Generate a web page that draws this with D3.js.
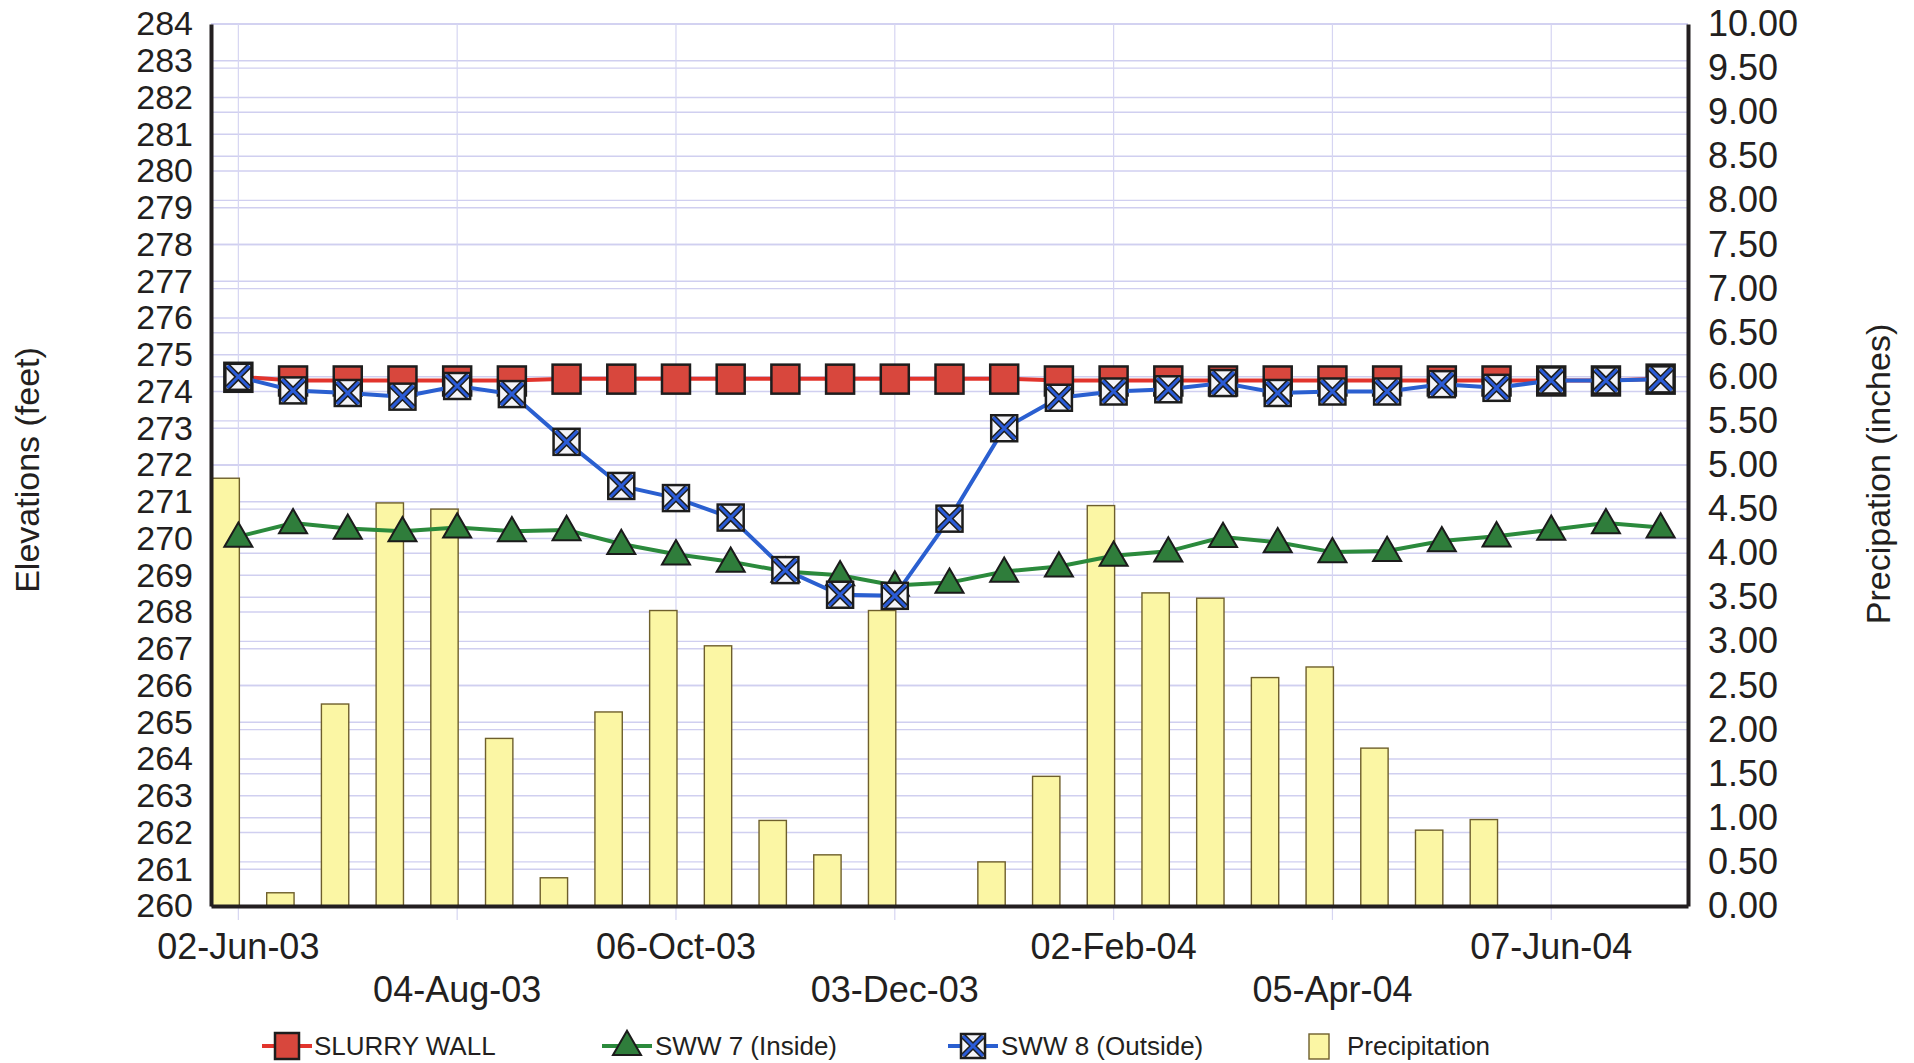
<!DOCTYPE html>
<html>
<head>
<meta charset="utf-8">
<script src="https://cdn.jsdelivr.net/npm/d3@7"></script>
<style>
  body { margin: 0; background: #fff; }
  svg text { font-family: "Liberation Sans", Arial, sans-serif; fill: #231f20; }
</style>
</head>
<body>
<svg id="chart" width="1914" height="1063"></svg>
<script>
// Slurry wall monitoring — elevations (left axis) and precipitation bars (right axis)
const dates = ["02-Jun-03","16-Jun-03","01-Jul-03","15-Jul-03","04-Aug-03","18-Aug-03","02-Sep-03",
  "16-Sep-03","06-Oct-03","20-Oct-03","03-Nov-03","17-Nov-03","03-Dec-03","17-Dec-03","05-Jan-04",
  "19-Jan-04","02-Feb-04","16-Feb-04","01-Mar-04","15-Mar-04","05-Apr-04","19-Apr-04","03-May-04",
  "17-May-04","07-Jun-04","21-Jun-04","06-Jul-04"];
const labelDates = dates.filter((d, i) => i % 4 === 0);

const slurryWall = [274.4,274.3,274.3,274.3,274.3,274.3,274.35,274.35,274.35,274.35,274.35,274.35,274.35,
  274.35,274.35,274.3,274.3,274.3,274.3,274.3,274.3,274.3,274.3,274.3,274.3,274.3,274.35];
const sww7 = [270.05,270.42,270.27,270.2,270.3,270.2,270.23,269.85,269.57,269.37,269.1,269.0,268.72,
  268.8,269.1,269.24,269.53,269.65,270.04,269.9,269.63,269.66,269.93,270.06,270.24,270.42,270.3];
const sww8 = [274.4,274.03,273.96,273.86,274.15,273.93,272.63,271.43,271.1,270.57,269.14,268.47,268.44,
  270.54,273.0,273.83,274.0,274.06,274.23,273.96,274.0,274.0,274.2,274.1,274.3,274.3,274.33];
const precip = [4.85,0.15,2.29,4.57,4.5,1.9,0.32,2.2,3.35,2.95,0.97,0.58,3.35,0,0.5,1.47,4.54,3.55,3.49,
  2.59,2.71,1.79,0.86,0.98,0,0,0];

const elevTicks = d3.range(260, 285, 1);
const precipTicks = d3.range(0, 10.01, 0.5);

const m = { left: 211, right: 1688, top: 24, bottom: 906 };
const svg = d3.select("#chart");

const x = d3.scaleBand().domain(dates).range([m.left, m.right]).padding(0);
const yL = d3.scaleLinear().domain([260, 284]).range([m.bottom, m.top]);
const yR = d3.scaleLinear().domain([0, 10]).range([m.bottom, m.top]);
const cx = d => x(d) + x.bandwidth() / 2;

// grid: left ft lines, right half-inch lines, verticals at labelled dates
const grid = svg.append("g").attr("stroke", "#d0cff0").attr("stroke-width", 1.4);
grid.selectAll(".gl").data(elevTicks).join("line").attr("class", "gl")
  .attr("x1", m.left).attr("x2", m.right).attr("y1", d => yL(d)).attr("y2", d => yL(d));
grid.selectAll(".gr").data(precipTicks).join("line").attr("class", "gr")
  .attr("x1", m.left).attr("x2", m.right).attr("y1", d => yR(d)).attr("y2", d => yR(d));
grid.selectAll(".gv").data(labelDates).join("line").attr("class", "gv")
  .attr("stroke", "#d6d5f2").attr("stroke-width", 1.2)
  .attr("x1", cx).attr("x2", cx).attr("y1", m.top).attr("y2", m.bottom + 14);

// precipitation bars: left half of each category
svg.append("g").selectAll("rect").data(precip.map((v, i) => ({ d: dates[i], v }))).join("rect")
  .filter(p => p.v > 0)
  .attr("x", p => x(p.d) + 1).attr("width", x.bandwidth() / 2)
  .attr("y", p => yR(p.v)).attr("height", p => yR(0) - yR(p.v))
  .attr("fill", "#fbf6a4").attr("stroke", "#6e5f2c").attr("stroke-width", 1.4);

const line = d3.line().x((v, i) => cx(dates[i])).y(v => yL(v));

// slurry wall
svg.append("path").datum(slurryWall).attr("d", line).attr("fill", "none")
  .attr("stroke", "#e2342c").attr("stroke-width", 4);
svg.append("g").selectAll("rect").data(slurryWall).join("rect")
  .attr("x", (v, i) => cx(dates[i]) - 14).attr("y", v => yL(v) - 14)
  .attr("width", 28).attr("height", 29)
  .attr("fill", "#d8473d").attr("stroke", "#1d1d1d").attr("stroke-width", 2.5);

// SWW 7
const tri = d3.symbol().type(d3.symbolTriangle).size(340);
svg.append("path").datum(sww7).attr("d", line).attr("fill", "none")
  .attr("stroke", "#2b8a3c").attr("stroke-width", 4);
svg.append("g").selectAll("path").data(sww7).join("path")
  .attr("d", tri)
  .attr("transform", (v, i) => `translate(${cx(dates[i])},${yL(v) + 2})`)
  .attr("fill", "#2f7d3b").attr("stroke", "#1b1b1b").attr("stroke-width", 2);

// SWW 8
svg.append("path").datum(sww8).attr("d", line).attr("fill", "none")
  .attr("stroke", "#2a5fd0").attr("stroke-width", 4);
const xm = svg.append("g").selectAll("g").data(sww8).join("g")
  .attr("transform", (v, i) => `translate(${cx(dates[i])},${yL(v)})`);
xm.append("rect").attr("x", -13).attr("y", -13).attr("width", 26).attr("height", 26)
  .attr("fill", "#f4f4f8").attr("stroke", "#1d1d1d").attr("stroke-width", 2.5);
xm.append("path").attr("d", "M-11,-11L11,11M11,-11L-11,11").attr("stroke", "#1d1d1d").attr("stroke-width", 6);
xm.append("path").attr("d", "M-11,-11L11,11M11,-11L-11,11").attr("stroke", "#2a5bd7").attr("stroke-width", 3);

// axes
const gL = svg.append("g").attr("transform", `translate(${m.left},0)`)
  .call(d3.axisLeft(yL).tickValues(elevTicks).tickSize(0).tickPadding(18).tickFormat(d3.format("d")));
const gR = svg.append("g").attr("transform", `translate(${m.right},0)`)
  .call(d3.axisRight(yR).tickValues(precipTicks).tickSize(0).tickPadding(20).tickFormat(d3.format(".2f")));
const gX = svg.append("g").attr("transform", `translate(0,${m.bottom})`)
  .call(d3.axisBottom(x).tickValues(labelDates).tickSize(0).tickPadding(0));
[gL, gR, gX].forEach(g => {
  g.select(".domain").attr("stroke", "#231f20").attr("stroke-width", 4);
  g.selectAll("text").attr("font-size", "36px").attr("fill", "#231f20")
    .style("font-family", "'Liberation Sans', Arial, sans-serif");
});
gL.selectAll("text").attr("font-size", "34px");
gX.selectAll("text").attr("dy", null).attr("y", (d, i) => i % 2 ? 96 : 53);

// axis titles
svg.append("text").attr("transform", "translate(39,470) rotate(-90)")
  .attr("text-anchor", "middle").attr("font-size", 34).text("Elevations (feet)");
svg.append("text").attr("transform", "translate(1890,474) rotate(-90)")
  .attr("text-anchor", "middle").attr("font-size", 34).text("Precipation (inches)");

// legend
const ly = 1046;
const leg = svg.append("g").attr("font-size", 26);
function legLine(x0, col) {
  leg.append("line").attr("x1", x0 - 25).attr("x2", x0 + 25).attr("y1", ly).attr("y2", ly)
    .attr("stroke", col).attr("stroke-width", 4);
}
legLine(287, "#e2342c");
leg.append("rect").attr("x", 287 - 12).attr("y", ly - 13).attr("width", 24).attr("height", 26)
  .attr("fill", "#d8473d").attr("stroke", "#1d1d1d").attr("stroke-width", 2.5);
leg.append("text").attr("x", 314).attr("y", ly + 9).text("SLURRY WALL");

legLine(627, "#2b8a3c");
leg.append("path").attr("d", tri).attr("transform", `translate(627,${ly + 1})`)
  .attr("fill", "#2f7d3b").attr("stroke", "#1b1b1b").attr("stroke-width", 2);
leg.append("text").attr("x", 655).attr("y", ly + 9).text("SWW 7 (Inside)");

legLine(973, "#2a5fd0");
const lx = leg.append("g").attr("transform", `translate(973,${ly})`);
lx.append("rect").attr("x", -12).attr("y", -12).attr("width", 24).attr("height", 24)
  .attr("fill", "#f4f4f8").attr("stroke", "#1d1d1d").attr("stroke-width", 2.5);
lx.append("path").attr("d", "M-10,-10L10,10M10,-10L-10,10").attr("stroke", "#1d1d1d").attr("stroke-width", 6);
lx.append("path").attr("d", "M-10,-10L10,10M10,-10L-10,10").attr("stroke", "#2a5bd7").attr("stroke-width", 3);
leg.append("text").attr("x", 1001).attr("y", ly + 9).text("SWW 8 (Outside)");

leg.append("rect").attr("x", 1309).attr("y", ly - 12).attr("width", 20).attr("height", 25)
  .attr("fill", "#fbf6a4").attr("stroke", "#6e5f2c").attr("stroke-width", 1.4);
leg.append("text").attr("x", 1347).attr("y", ly + 9).text("Precipitation");
</script>
</body>
</html>
